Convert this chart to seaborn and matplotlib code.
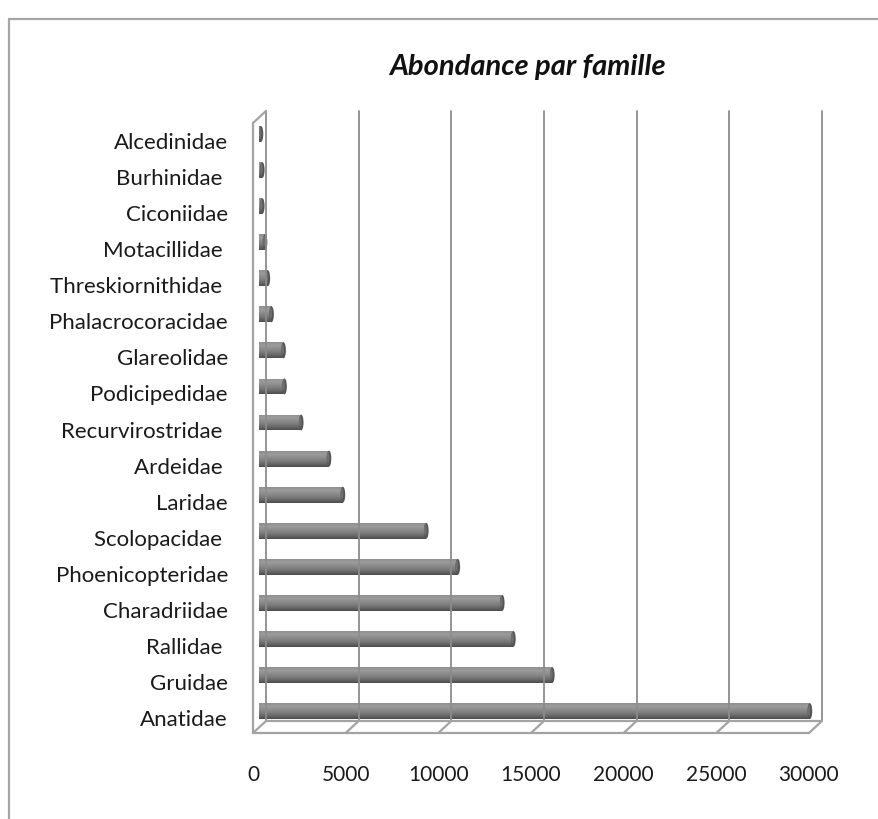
import numpy as np
import pandas as pd
import matplotlib
matplotlib.use('Agg')
import matplotlib.pyplot as plt
import matplotlib.transforms as mtransforms
from matplotlib.lines import Line2D
from matplotlib.patches import Ellipse
from matplotlib.colors import LinearSegmentedColormap
import seaborn as sns

# --- données ---
familles = ['Alcedinidae', 'Burhinidae ', 'Ciconiidae', 'Motacillidae ', 'Threskiornithidae ',
            'Phalacrocoracidae', 'Glareolidae', 'Podicipedidae', 'Recurvirostridae ', 'Ardeidae ',
            'Laridae', 'Scolopacidae ', 'Phoenicopteridae', 'Charadriidae', 'Rallidae ',
            'Gruidae', 'Anatidae']
abondance = [80, 150, 150, 300, 450, 650, 1300, 1350, 2250, 3750,
             4500, 9000, 10700, 13100, 13700, 15800, 29700]
graduations = [0, 5000, 10000, 15000, 20000, 25000, 30000]
titre = 'Abondance par famille'

sns.set_theme(style='white')
plt.rcParams['font.family'] = ['Lato', 'DejaVu Sans']

fig = plt.figure(figsize=(8.79, 8.20), dpi=100)
ax = fig.add_axes([0.2952, 0.1122, 0.6325, 0.7439])

df = pd.DataFrame({'famille': familles, 'abondance': abondance})
sns.barplot(data=df, x='abondance', y='famille', order=familles, color='#808080',
            width=0.44, saturation=1, ax=ax, zorder=3)

ax.set_xlim(0, 30000)
ax.set_ylim(16.44, -0.47)

# effet cylindre : dégradé vertical dans chaque barre + bout arrondi
cmap_barre = LinearSegmentedColormap.from_list(
    'barre', ['#8e8e8e', '#9c9c9c', '#8e8e8e', '#7e7e7e', '#686868', '#4c4c4c'])
degrade = np.linspace(0, 1, 64).reshape(-1, 1)
largeur_bout = 250
for p in list(ax.patches):
    x0, y0 = p.get_x(), p.get_y()
    w, h = p.get_width(), p.get_height()
    im = ax.imshow(degrade, cmap=cmap_barre, aspect='auto', origin='upper',
                   extent=(x0, x0 + w, y0 + h, y0), zorder=4)
    im.set_clip_path(p)
    ax.add_patch(Ellipse((x0 + w, y0 + h / 2), largeur_bout, h, facecolor='#555555',
                         edgecolor='none', zorder=5))
    ax.add_patch(Ellipse((x0 + w - 50, y0 + h / 2 - 0.03), largeur_bout * 0.6, h * 0.7,
                         facecolor='#6e6e6e', edgecolor='none', zorder=5))

ax.set_xlim(0, 30000)
ax.set_ylim(16.44, -0.47)
for s in ax.spines.values():
    s.set_visible(False)
ax.grid(False)
ax.set_xlabel('')
ax.set_ylabel('')

# graduations
ax.set_xticks(graduations)
ax.set_xticklabels([str(g) for g in graduations])
ax.tick_params(axis='x', length=0, pad=27, labelsize=15, labelcolor='#1a1a1a')
ax.tick_params(axis='y', length=0, pad=18, labelsize=16, labelcolor='#1a1a1a')
devant_x = mtransforms.ScaledTranslation(-0.065, 0, fig.dpi_scale_trans)
devant_xy = mtransforms.ScaledTranslation(-0.065, -0.06, fig.dpi_scale_trans)
for lab in ax.get_xticklabels():
    lab.set_transform(lab.get_transform() + devant_x)
for lab in ax.get_yticklabels():
    lab.set_transform(lab.get_transform() + devant_xy)

# cadre 3D (mur du fond, mur gauche, plancher)
fig.canvas.draw()
melange = mtransforms.blended_transform_factory(ax.transData, ax.transAxes)
profondeur = np.array([6.5, 6.0])


def coin(x, ya, sens):
    return melange.transform((x, ya)) + sens * profondeur


def trait(a, b, couleur='#a3a3a3', lw=1.6):
    fig.add_artist(Line2D([a[0], b[0]], [a[1], b[1]], transform=mtransforms.IdentityTransform(),
                          color=couleur, lw=lw, zorder=1))


for g in graduations:
    trait(coin(g, 0, 1), coin(g, 1, 1), '#8c8c8c', 1.3)
    trait(coin(g, 0, 1), coin(g, 0, -1))
trait(coin(0, 0, 1), coin(30000, 0, 1))
trait(coin(0, 0, -1), coin(30000, 0, -1))
trait(coin(0, 0, -1), coin(0, 1, -1))
trait(coin(0, 1, -1), coin(0, 1, 1))

# cadre extérieur
fig.add_artist(Line2D([9 / 879, 1], [1 - 20 / 820, 1 - 20 / 820], transform=fig.transFigure,
                      color='#a6a6a6', lw=1.6))
fig.add_artist(Line2D([9 / 879, 9 / 879], [0, 1 - 20 / 820], transform=fig.transFigure,
                      color='#a6a6a6', lw=1.6))

fig.text(527 / 879, 1 - 67 / 820, titre, ha='center', va='center', fontsize=21,
         fontweight='bold', fontstyle='italic', color='#111111')

fig.savefig('out.png', dpi=100)
